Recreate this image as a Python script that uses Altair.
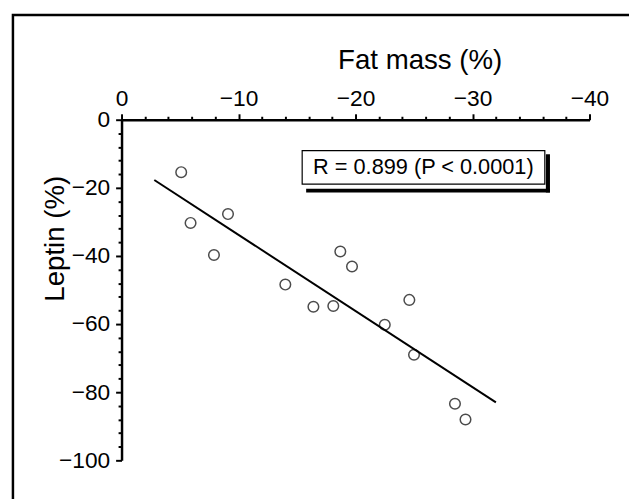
import altair as alt
import pandas as pd

# Scatter data
fat_mass = [-5.1, -5.9, -7.9, -9.1, -14.0, -16.4, -18.1, -18.7, -19.7, -22.5, -24.6, -25.0, -28.5, -29.4]
leptin = [-15.4, -30.3, -39.7, -27.7, -48.4, -54.9, -54.7, -38.7, -43.1, -60.2, -52.9, -69.0, -83.4, -88.0]

# Regression line end points
fit_x = [-2.8, -32.0]
fit_y = [-17.7, -83.0]

x_ticks = list(range(0, -41, -2))
y_ticks = list(range(0, -101, -4))

annotation = "R = 0.899 (P < 0.0001)"
FONT = "Liberation Sans"

pts = pd.DataFrame({"x": fat_mass, "y": leptin})
fit = pd.DataFrame({"x": fit_x, "y": fit_y})

xscale = alt.Scale(domain=[-40, 0], reverse=True, nice=False, zero=False)
yscale = alt.Scale(domain=[-100, 0], nice=False, zero=False)

xaxis = alt.Axis(
    orient="top", values=x_ticks, title="Fat mass (%)",
    labelExpr="datum.value % 10 === 0 ? datum.label : ''",
    tickSize={"condition": {"test": "datum.value % 10 === 0", "value": 6}, "value": 3.5},
    labelOverlap=False, labelFlush=False, grid=False,
    labelFont=FONT, labelFontSize=23, labelColor="black", labelPadding=3,
    titleFont=FONT, titleFontSize=28, titleFontWeight="normal", titleColor="black",
    titleX=302, titleY=-52, titleBaseline="alphabetic", titleAlign="center", titleAnchor="start",
    domainColor="black", domainWidth=2.5, tickColor="black", tickWidth=2,
)
yaxis = alt.Axis(
    orient="left", values=y_ticks, title="Leptin (%)",
    labelExpr="datum.value % 20 === 0 ? datum.label : ''",
    tickSize={"condition": {"test": "datum.value % 20 === 0", "value": 6}, "value": 3.5},
    labelOverlap=False, labelFlush=False, grid=False,
    labelFont=FONT, labelFontSize=23, labelColor="black", labelPadding=6,
    titleFont=FONT, titleFontSize=28, titleFontWeight="normal", titleColor="black",
    titleAngle=270, titleX=-59, titleY=120, titleBaseline="alphabetic", titleAlign="center", titleAnchor="start",
    domainColor="black", domainWidth=2.5, tickColor="black", tickWidth=2,
)

X = alt.X("x:Q", scale=xscale, axis=xaxis)
Y = alt.Y("y:Q", scale=yscale, axis=yaxis)

points = alt.Chart(pts).mark_point(
    shape="circle", filled=False, color="black", size=115, strokeWidth=1.5
).encode(x=X, y=Y)

line = alt.Chart(fit).mark_line(color="black", strokeWidth=2).encode(x=X, y=Y)

# Annotation box with drop shadow bars (in data coordinates)
shadow = pd.DataFrame({
    "x": [-36.27, -15.78], "x2": [-36.62, -36.62],
    "y": [-10.14, -20.29], "y2": [-21.36, -21.36],
})
shadow_marks = alt.Chart(shadow).mark_rect(color="black").encode(
    x=X, x2="x2:Q", y=Y, y2="y2:Q",
)
box = alt.Chart(pd.DataFrame({"x": [-15.44], "x2": [-36.18], "y": [-9.07], "y2": [-18.93]})).mark_rect(
    fill="white", stroke="black", strokeWidth=1.2
).encode(x=X, x2="x2:Q", y=Y, y2="y2:Q")
label = alt.Chart(pd.DataFrame({"x": [-25.8], "y": [-14.0], "t": [annotation]})).mark_text(
    font=FONT, fontSize=22, color="black", align="center", baseline="middle"
).encode(x=X, y=Y, text="t:N")

frame = alt.Chart(pd.DataFrame({"a": [0]})).mark_rect(
    fill="transparent", stroke="black", strokeWidth=2.5, clip=False
).encode(
    x=alt.value(-110), x2=alt.value(700), y=alt.value(-106), y2=alt.value(600)
)

chart = alt.layer(line, points, shadow_marks, box, label, frame).properties(
    width=474, height=345,
    background="white",
    autosize=alt.AutoSizeParams(type="none"),
    padding={"left": 115, "top": 110, "right": 40, "bottom": 36},
).configure_view(strokeWidth=0, stroke="transparent").configure_axis(grid=False)

chart.save("out.html", embed_options={"renderer": "svg", "actions": False})
